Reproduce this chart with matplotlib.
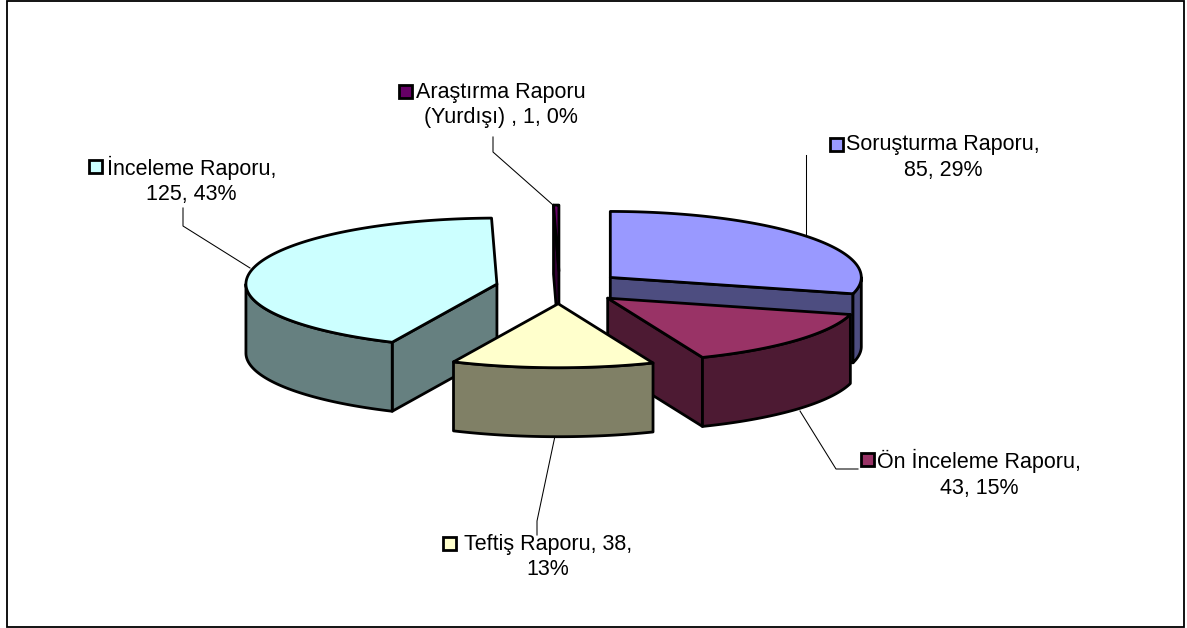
import numpy as np
import matplotlib
matplotlib.use('Agg')
import matplotlib.pyplot as plt
from matplotlib.patches import Polygon, Rectangle

plt.rcParams['font.family'] = ['Liberation Sans', 'DejaVu Sans']

# Data (clockwise from the top of the pie)
names = ['Soruşturma Raporu', 'Ön İnceleme Raporu', 'Teftiş Raporu', 'İnceleme Raporu', 'Araştırma Raporu (Yurdışı)']
values = [85, 43, 38, 125, 1]
top_colors = ['#9999FF', '#993366', '#FFFFCC', '#CCFFFF', '#660066']
side_colors = ['#4D4D80', '#4D1A33', '#808066', '#668080', '#330033']
label_texts = ['Soruşturma Raporu,\n85, 29%', 'Ön İnceleme Raporu,\n43, 15%', 'Teftiş Raporu, 38,\n13%',
               'İnceleme Raporu,\n125, 43%', 'Araştırma Raporu\n(Yurdışı) , 1, 0%']

# Layout in pixels
label_pos = [(943, 157.5), (979, 474), (548, 557), (191.5, 180.5), (501, 105)]
key_pos = [(836, 144), (867, 459), (449, 543), (95.5, 166), (405, 91)]
leaders = [[(806, 155), (806, 237)],
           [(800, 411), (836, 469), (858, 469)],
           [(555, 436), (537, 521), (537, 535)],
           [(183, 208), (183, 226), (250, 268)],
           [(493, 137), (493, 152), (553, 205)]]
draw_order = [4, 0, 3, 1, 2]

cx, cy = 559.6, 287.4
rx = 251
ry_back, ry_front = 66, 64  # back half is a little taller in the original
depth = 69
explode = 64

fig = plt.figure(figsize=(11.87, 6.28), dpi=100)
ax = fig.add_axes([0, 0, 1, 1])
ax.set_xlim(0, 1187)
ax.set_ylim(628, 0)
ax.axis('off')

ax.add_patch(Rectangle((7, 1), 1177, 626, fc='white', ec='black', lw=1.3))

fracs = np.array(values) / sum(values)
ends = np.cumsum(fracs) * 360
starts = ends - fracs * 360


def pt(a):
    a = np.radians(a)
    c = np.cos(a)
    return np.sin(a) * rx, -c * np.where(c > 0, ry_back, ry_front)


def face(xy, color, z):
    ax.add_patch(Polygon(xy, closed=True, fc=color, ec='black', lw=2.0, joinstyle='round', zorder=z))


for n, i in enumerate(draw_order):
    a0, a1 = starts[i], ends[i]
    mid = np.radians((a0 + a1) / 2)
    x0 = cx + np.sin(mid) * explode
    y0 = cy - np.cos(mid) * explode * ry_front / rx
    z = 2 + n

    # flat cut faces that look towards the viewer
    for a, normal in ((a0, a0 - 90), (a1, a1 + 90)):
        if np.cos(np.radians(normal)) < -0.001:
            ex, ey = pt(a)
            face([(x0, y0), (x0 + ex, y0 + ey), (x0 + ex, y0 + ey + depth), (x0, y0 + depth)], side_colors[i], z)

    # outer wall, only the front half of the rim is seen
    w0, w1 = max(a0, 90), min(a1, 270)
    if w1 > w0:
        t = np.linspace(w0, w1, 80)
        wx, wy = pt(t)
        upper = np.column_stack([x0 + wx, y0 + wy])
        lower = np.column_stack([x0 + wx, y0 + wy + depth])[::-1]
        face(np.vstack([upper, lower]), side_colors[i], z)

    # top
    t = np.linspace(a0, a1, 160)
    tx, ty = pt(t)
    face(np.vstack([[x0, y0], np.column_stack([x0 + tx, y0 + ty])]), top_colors[i], z)

for i in range(len(values)):
    lx, ly = zip(*leaders[i])
    ax.plot(lx, ly, color='black', lw=0.75, zorder=1)
    ax.text(label_pos[i][0], label_pos[i][1], label_texts[i], ha='center', va='center',
            fontsize=15.5, color='black', linespacing=1.3, zorder=20)
    kx, ky = key_pos[i]
    ax.add_patch(Rectangle((kx - 6.5, ky - 6.5), 13, 13, fc=top_colors[i], ec='black', lw=2.0, zorder=20))

fig.savefig('out.png', dpi=100)
